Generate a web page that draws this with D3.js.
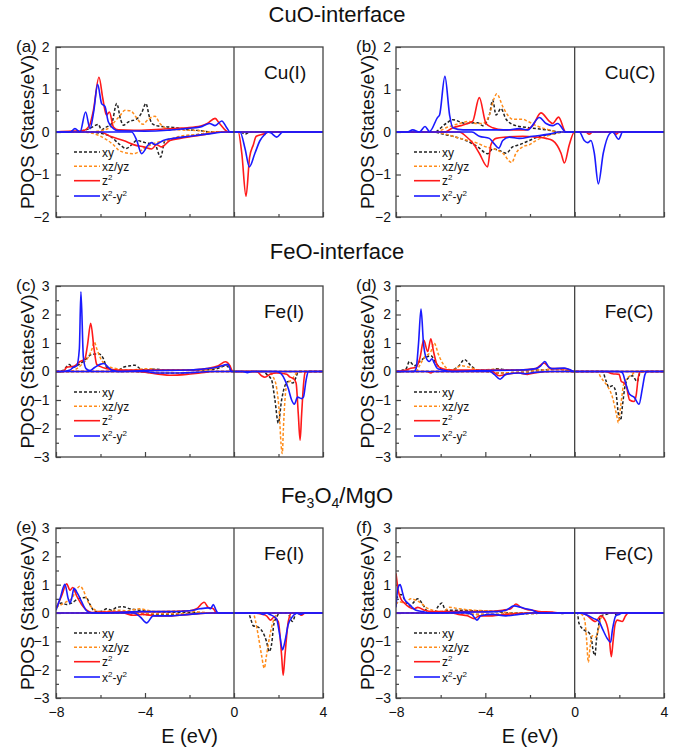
<!DOCTYPE html>
<html>
<head>
<meta charset="utf-8">
<script src="https://cdn.jsdelivr.net/npm/d3@7"></script>
<style>
  body { margin: 0; background: #fff; }
  svg { display: block; font-family: "Liberation Sans", Arial, Helvetica, sans-serif; }
</style>
</head>
<body>
<svg id="chart" width="692" height="752"></svg>
<script>
// ---------- axis ticks and labels ----------
const energyTicks = [-8, -4, 0, 4];
const energyMinorTicks = [-6, -2, 2];
const energyDomain = [-8, 4];
const sectionTitles = ["CuO-interface", "FeO-interface", "Fe3O4/MgO"];
const panelLetters = ["(a)", "(b)", "(c)", "(d)", "(e)", "(f)"];
const siteNames = ["Cu(I)", "Cu(C)", "Fe(I)", "Fe(C)", "Fe(I)", "Fe(C)"];
const pdosLimits = [2, 2, 3, 3, 3, 3];
const orbitals = ["xy", "xz/yz", "z2", "x2-y2"];

// ---------- projected DOS, [E (eV), PDOS] — spin up (>0) and spin down (<0) ----------
// (a) CuO-interface, Cu(I)
const cuI_xy_up = [[-8,0],[-7,0.02],[-6.5,0.08],[-6.25,0.15],[-6.1,0.18],[-5.95,0.05],[-5.8,0.1],[-5.5,0.2],[-5.27,0.67],[-5.1,0.3],[-4.97,0.16],[-4.74,0.24],[-4.37,0.31],[-4.15,0.45],[-3.96,0.67],[-3.8,0.35],[-3.69,0.2],[-3.4,0.14],[-3,0.12],[-2.6,0.1],[-2.2,0.06],[-1.5,0.03],[-1,0],[4,0]];
const cuI_xz_up = [[-8,0],[-6.5,0],[-6,0.03],[-5.6,0.1],[-5.35,0.25],[-5.12,0.39],[-4.9,0.51],[-4.65,0.5],[-4.4,0.35],[-4.1,0.18],[-3.85,0.3],[-3.55,0.37],[-3.33,0.2],[-3.03,0.08],[-2.5,0.05],[-1.5,0.03],[-1,0],[4,0]];
const cuI_z2_up = [[-8,0],[-7.3,0.02],[-6.8,0.03],[-6.5,0.15],[-6.32,0.51],[-6.07,1.29],[-5.9,0.8],[-5.8,0.51],[-5.73,0.4],[-5.6,0.47],[-5.42,0.12],[-5.2,0.05],[-4.5,0.04],[-3.5,0.06],[-2.5,0.09],[-2.1,0.1],[-1.5,0.14],[-1.2,0.2],[-0.85,0.32],[-0.65,0.2],[-0.25,0],[4,0]];
const cuI_x2_up = [[-8,0],[-7.35,0],[-7.15,0.08],[-6.92,0],[-6.67,0.47],[-6.47,0.08],[-6.3,0.5],[-6.13,1.12],[-5.95,0.67],[-5.8,0.6],[-5.65,0.24],[-5.42,0.08],[-5.2,0.03],[-4,0.02],[-3,0.04],[-2.2,0.08],[-1.5,0.12],[-1.1,0.2],[-0.85,0.15],[-0.55,0.26],[-0.35,0.12],[-0.18,0],[4,0]];
const cuI_xy_dn = [[-8,0],[-6.5,0],[-6,-0.03],[-5.57,-0.1],[-5.12,-0.3],[-4.85,-0.39],[-4.6,-0.3],[-4.37,-0.2],[-4,-0.25],[-3.55,-0.3],[-3.3,-0.59],[-3.1,-0.2],[-2.6,-0.15],[-2.1,-0.1],[-1.5,-0.05],[-1,0],[0.3,0],[0.5,-0.05],[0.7,0],[4,0]];
const cuI_xz_dn = [[-8,0],[-6.8,0],[-6,-0.1],[-5.42,-0.3],[-5.12,-0.45],[-4.52,-0.51],[-4.22,-0.45],[-3.93,-0.35],[-3.48,-0.25],[-3.03,-0.2],[-2.43,-0.1],[-1.5,-0.05],[-0.9,0],[4,0]];
const cuI_z2_dn = [[-8,0],[-6,0],[-5.57,-0.1],[-4.97,-0.2],[-4.37,-0.32],[-4.07,-0.35],[-3.7,-0.4],[-3.48,-0.3],[-3.25,-0.35],[-2.88,-0.2],[-2.43,-0.15],[-1.83,-0.1],[-1.23,-0.05],[-0.6,0],[0.19,0],[0.35,-0.5],[0.54,-1.51],[0.7,-0.6],[0.87,-0.3],[1.0,-0.1],[1.32,-0.05],[1.6,0],[4,0]];
const cuI_x2_dn = [[-8,0],[-4.6,0],[-4.37,-0.2],[-4.15,-0.51],[-3.85,-0.3],[-3.7,-0.25],[-3.55,-0.3],[-3.18,-0.2],[-2.73,-0.15],[-1.98,-0.1],[-1.23,-0.05],[-0.33,0],[0.27,0],[0.5,-0.4],[0.69,-0.82],[0.94,-0.5],[1.17,-0.2],[1.4,-0.05],[1.5,0],[1.65,-0.02],[1.92,-0.12],[2.2,0],[4,0]];

// (b) CuO-interface, Cu(C)
const cuC_xy_up = [[-8,0],[-6.3,0],[-5.76,0.2],[-5.46,0.29],[-4.87,0.2],[-4.34,0.22],[-4.12,0.15],[-3.82,0.4],[-3.67,0.75],[-3.52,0.4],[-3.3,0.55],[-3.07,0.3],[-2.63,0.15],[-2.03,0.1],[-1.28,0.05],[-0.55,0],[4,0]];
const cuC_xz_up = [[-8,0],[-6.2,0],[-5.76,0.1],[-5.16,0.2],[-4.72,0.25],[-4.42,0.2],[-4.12,0.2],[-3.82,0.4],[-3.6,0.8],[-3.49,0.9],[-3.22,0.6],[-3.0,0.4],[-2.78,0.3],[-2.33,0.3],[-2.1,0.25],[-1.73,0.15],[-1.14,0.05],[-0.8,0],[4,0]];
const cuC_z2_up = [[-8,0],[-5.8,0],[-5.46,0.1],[-5.09,0.15],[-4.79,0.2],[-4.57,0.25],[-4.27,0.81],[-3.97,0.2],[-3.67,0.1],[-3.2,0.05],[-2.2,0.05],[-1.88,0.15],[-1.51,0.45],[-1.13,0.25],[-0.99,0.2],[-0.72,0.35],[-0.4,0],[4,0]];
const cuC_x2_up = [[-8,0],[-7.5,0],[-7.25,0.05],[-6.95,0],[-6.7,0.13],[-6.5,0.01],[-6.13,0.35],[-6.05,0.4],[-5.81,1.31],[-5.6,0.4],[-5.46,0.1],[-5.0,0.05],[-3,0.05],[-2.48,0.08],[-2.1,0.05],[-1.58,0.34],[-1.28,0.2],[-0.99,0.15],[-0.76,0.2],[-0.39,0],[4,0]];
const cuC_xy_dn = [[-8,0],[-6.3,0],[-5.9,-0.05],[-5.46,-0.1],[-4.87,-0.2],[-4.34,-0.35],[-3.9,-0.51],[-3.67,-0.4],[-3.3,-0.45],[-3.07,-0.5],[-2.78,-0.35],[-2.48,-0.3],[-2.03,-0.2],[-1.58,-0.1],[-0.99,-0.05],[-0.5,0],[4,0]];
const cuC_xz_dn = [[-8,0],[-6.3,0],[-5.76,-0.05],[-5.16,-0.15],[-4.42,-0.25],[-3.97,-0.35],[-3.6,-0.4],[-3.22,-0.5],[-2.82,-0.72],[-2.63,-0.5],[-2.33,-0.35],[-2.03,-0.3],[-1.73,-0.2],[-1.28,-0.1],[-0.99,-0.05],[-0.55,0],[4,0]];
const cuC_z2_dn = [[-8,0],[-5.16,0],[-4.87,-0.1],[-4.5,-0.3],[-4.27,-0.5],[-3.9,-0.82],[-3.75,-0.3],[-3.52,-0.15],[-3.07,-0.12],[-2.33,-0.1],[-1.73,-0.12],[-1.28,-0.15],[-0.99,-0.2],[-0.61,-0.5],[-0.46,-0.73],[-0.24,-0.3],[-0.01,0],[0.5,0],[0.65,-0.05],[0.8,0],[1.7,0],[1.85,-0.05],[2.0,0],[4,0]];
const cuC_x2_dn = [[-8,0],[-4.6,0],[-4.27,-0.1],[-3.82,-0.15],[-3.6,-0.28],[-3.4,-0.38],[-3.22,-0.2],[-2.93,-0.12],[-2.48,-0.15],[-1.88,-0.1],[-1.14,-0.05],[-0.7,0],[0.21,0],[0.43,-0.2],[0.58,-0.25],[0.73,-0.2],[0.88,-0.5],[1.06,-1.22],[1.28,-0.5],[1.55,-0.05],[1.7,0],[1.97,-0.17],[2.15,0],[4,0]];

// (c) FeO-interface, Fe(I)
const feI_xy_up = [[-8,0],[-7.67,0.05],[-7.4,0.25],[-7.25,0.15],[-7.07,0.2],[-6.7,0.4],[-6.4,0.6],[-6.1,0.62],[-5.87,0.45],[-5.72,0.15],[-5.5,0.05],[-5.27,0.02],[-4.97,0.15],[-4.67,0.2],[-4.45,0.22],[-4.22,0.1],[-3.93,0.05],[-3.63,0.08],[-3,0.05],[-1.5,0.05],[-0.78,0.1],[-0.33,0.2],[-0.1,0],[4,0]];
const feI_xz_up = [[-8,0],[-7.37,0],[-7.07,0.1],[-6.77,0.3],[-6.55,0.5],[-6.38,0.8],[-6.28,1.04],[-6.17,0.8],[-6.02,0.5],[-5.72,0.2],[-5.27,0.1],[-4.8,0.05],[-3.78,0.1],[-3.3,0.05],[-1.2,0.05],[-0.93,0.1],[-0.48,0.2],[-0.25,0.25],[-0.05,0],[4,0]];
const feI_z2_up = [[-8,0],[-7.67,0],[-7.52,0.15],[-7.2,0.18],[-6.92,0.35],[-6.7,0.45],[-6.59,0.9],[-6.44,1.69],[-6.29,0.8],[-6.17,0.25],[-6.02,0.18],[-5.72,0.1],[-5.2,0.05],[-2,0.05],[-1.23,0.1],[-0.7,0.2],[-0.39,0.34],[-0.18,0.2],[-0.06,0],[4,0]];
const feI_x2_up = [[-8,0],[-7.67,0],[-7.37,0.05],[-7.22,0.15],[-7.07,0.2],[-6.95,0.8],[-6.88,2.8],[-6.77,0.5],[-6.65,0.1],[-6.47,0.03],[-6.25,0.15],[-6.02,0.25],[-5.84,0.28],[-5.72,0.2],[-5.5,0.05],[-5.2,0],[-4,0.03],[-2,0.05],[-1.5,0.08],[-0.78,0.15],[-0.28,0.25],[-0.1,0],[4,0]];
const feI_xy_dn = [[-8,0],[-4.5,0],[-3.5,-0.05],[-2.5,-0.05],[-1.5,-0.03],[-1,0],[1.32,0],[1.47,-0.1],[1.69,-0.3],[1.84,-1.0],[1.99,-1.81],[2.14,-1.0],[2.29,-0.5],[2.44,-0.35],[2.64,-0.4],[2.79,-0.2],[2.89,0],[4,0]];
const feI_xz_dn = [[-8,0],[-4.5,0],[-3.5,-0.03],[-2.5,-0.04],[-1.5,-0.02],[-1,0],[1.54,0],[1.77,-0.2],[1.92,-0.6],[2.04,-1.5],[2.11,-2.5],[2.17,-2.88],[2.22,-2.0],[2.29,-1.0],[2.39,-0.4],[2.59,-0.3],[2.82,-0.05],[3.0,0],[4,0]];
const feI_z2_dn = [[-8,0],[-4.5,0],[-3.78,-0.05],[-3.3,-0.1],[-2.88,-0.13],[-2.13,-0.1],[-1.53,-0.05],[-0.93,0],[1.02,0],[1.24,-0.15],[1.39,-0.2],[1.62,-0.1],[1.92,-0.05],[2.37,-0.1],[2.52,-0.2],[2.67,-0.25],[2.79,-0.4],[2.89,-1.5],[2.97,-2.41],[3.04,-1.5],[3.12,-0.5],[3.19,-0.05],[3.27,0],[4,0]];
const feI_x2_dn = [[-8,0],[-4,0],[-3.5,-0.05],[-2.5,-0.05],[-1.5,-0.02],[-1,0],[0.4,0],[0.6,-0.04],[0.8,0],[1.92,0],[2.14,-0.1],[2.29,-0.3],[2.44,-0.6],[2.59,-1.0],[2.71,-1.15],[2.86,-0.9],[3.04,-0.95],[3.12,-0.9],[3.24,-0.3],[3.34,0],[4,0]];

// (d) FeO-interface, Fe(C)
const feC_xy_up = [[-8,0],[-7.55,0.1],[-7.4,0.35],[-7.18,0.2],[-6.88,0.4],[-6.66,0.5],[-6.44,0.55],[-6.21,0.3],[-5.99,0.1],[-5.7,0.02],[-5.18,0.2],[-4.94,0.42],[-4.64,0.2],[-4.34,0.05],[-3.8,0.05],[-3.45,0.1],[-3,0.05],[-1.5,0.05],[-0.78,0.1],[-0.12,0],[4,0]];
const feC_xz_up = [[-8,0],[-7.1,0],[-6.95,0.2],[-6.73,0.5],[-6.44,0.7],[-6.29,1.0],[-6.1,0.6],[-5.92,0.3],[-5.7,0.1],[-5.47,0.05],[-5.1,0.2],[-4.72,0.15],[-4.27,0.05],[-3.6,0.08],[-3,0.05],[-1.5,0.05],[-0.78,0.1],[-0.18,0],[4,0]];
const feC_z2_up = [[-8,0],[-7.55,0.05],[-7.4,0.1],[-7.1,0.15],[-6.92,0.5],[-6.76,1.1],[-6.58,0.7],[-6.44,1.15],[-6.32,0.7],[-6.14,0.2],[-5.92,0.1],[-5.5,0.05],[-2.5,0.05],[-1.74,0.1],[-1.37,0.3],[-1.07,0.1],[-0.4,0.1],[-0.05,0],[4,0]];
const feC_x2_up = [[-8,0],[-7.2,0],[-7.1,0.1],[-6.99,1.0],[-6.88,2.19],[-6.77,1.0],[-6.66,0.5],[-6.51,0.35],[-6.39,0.45],[-6.29,0.3],[-6.14,0.1],[-5.9,0.05],[-5.5,0],[-4.2,0.03],[-2.49,0.05],[-1.74,0.1],[-1.52,0.2],[-1.34,0.35],[-1.15,0.15],[-1.0,0.1],[-0.47,0.12],[-0.18,0.05],[-0.04,0],[4,0]];
const feC_xy_dn = [[-8,0],[-4,0],[-3.4,-0.05],[-2.5,-0.03],[-1,0],[1.25,0],[1.39,-0.3],[1.54,-0.55],[1.69,-0.5],[1.84,-0.7],[1.96,-1.5],[2.06,-1.71],[2.14,-1.2],[2.26,-0.5],[2.43,-0.2],[2.58,-0.15],[2.8,-0.35],[2.95,0],[4,0]];
const feC_xz_dn = [[-8,0],[-4,0],[-3.4,-0.05],[-2.5,-0.03],[-1,0],[1.02,0],[1.17,-0.2],[1.31,-0.35],[1.46,-0.5],[1.69,-0.9],[1.87,-1.5],[1.96,-1.8],[2.03,-1.4],[2.11,-0.9],[2.18,-0.5],[2.29,-0.3],[2.58,-0.1],[2.73,0],[4,0]];
const feC_z2_dn = [[-8,0],[-6.6,0],[-6.44,-0.05],[-6.3,0],[-3.7,0],[-3.38,-0.15],[-3.08,-0.1],[-2.5,-0.05],[-2.11,-0.1],[-1.8,-0.05],[-1,0],[1.39,0],[1.69,-0.08],[1.99,-0.1],[2.09,-0.35],[2.21,-0.4],[2.31,-0.5],[2.46,-1.0],[2.66,-1.05],[2.76,-0.8],[2.85,-0.2],[2.95,0],[4,0]];
const feC_x2_dn = [[-8,0],[-3.8,0],[-3.6,-0.1],[-3.34,-0.27],[-3.08,-0.1],[-2.5,-0.05],[-2.2,-0.08],[-1.8,-0.03],[-1,0],[1.99,0],[2.14,-0.05],[2.28,-0.4],[2.46,-0.8],[2.66,-0.9],[2.88,-1.15],[3.03,-0.6],[3.15,-0.1],[3.25,0],[4,0]];

// (e) Fe3O4/MgO, Fe(I)
const mgI_xy_up = [[-8,0.2],[-7.75,0.35],[-7.52,0.3],[-7.3,0.35],[-7.0,0.5],[-6.65,0.55],[-6.47,0.3],[-6.25,0.05],[-6.0,0.05],[-5.72,0.15],[-5.5,0.1],[-5.27,0.2],[-4.98,0.22],[-4.68,0.15],[-4.23,0.1],[-3.78,0.05],[-2.5,0.02],[-1.2,0],[4,0]];
const mgI_xz_up = [[-8,0.2],[-7.75,0.3],[-7.52,0.4],[-7.3,0.5],[-7.1,0.8],[-6.92,0.95],[-6.77,0.8],[-6.62,0.5],[-6.4,0.2],[-6.02,0.05],[-5.5,0.08],[-5.27,0.1],[-4.8,0.08],[-4.23,0.15],[-3.93,0.1],[-3.5,0.05],[-2,0.08],[-1.5,0.03],[-0.8,0],[4,0]];
const mgI_z2_up = [[-8,0.15],[-7.75,0.6],[-7.52,1.03],[-7.37,0.8],[-7.25,0.9],[-7.07,0.6],[-6.85,0.3],[-6.62,0.1],[-6.4,0.02],[-6,0.03],[-3,0.05],[-2,0.08],[-1.68,0.15],[-1.34,0.38],[-1.16,0.2],[-0.93,0.15],[-0.78,0],[4,0]];
const mgI_x2_up = [[-8,0.1],[-7.82,0.5],[-7.6,1.01],[-7.45,0.5],[-7.37,0.35],[-7.3,0.5],[-7.19,0.87],[-7.04,0.7],[-6.85,0.4],[-6.65,0.1],[-6.47,0.02],[-6,0],[-4.2,0.05],[-3,0.05],[-2,0.08],[-1.53,0.15],[-1.16,0.18],[-1.05,0.15],[-0.93,0.3],[-0.81,0.1],[-0.71,0],[4,0]];
const mgI_xy_dn = [[-8,0],[-4.5,0],[-4.0,-0.05],[-3,-0.05],[-2,-0.02],[-1,0],[0.64,0],[0.75,-0.2],[0.86,-0.45],[1.09,-0.5],[1.31,-0.7],[1.46,-1.0],[1.58,-1.36],[1.69,-1.1],[1.79,-0.4],[1.91,-0.15],[2.06,0],[2.4,0],[2.63,-0.3],[2.8,0],[4,0]];
const mgI_xz_dn = [[-8,0],[-4.5,0],[-4,-0.03],[-3,-0.03],[-1,0],[0.86,0],[0.97,-0.3],[1.09,-0.8],[1.24,-1.5],[1.36,-1.95],[1.46,-1.5],[1.61,-0.8],[1.76,-0.3],[1.91,-0.05],[2.06,0],[4,0]];
const mgI_z2_dn = [[-8,0],[-5,0],[-4.53,-0.08],[-4.1,-0.05],[-3.5,-0.1],[-2.8,-0.1],[-2,-0.05],[-1,0],[0.86,0],[1.31,-0.05],[1.46,-0.1],[1.64,-0.25],[1.79,-0.15],[1.99,-0.3],[2.14,-1.5],[2.21,-2.2],[2.29,-1.5],[2.44,-0.3],[2.59,0],[2.85,0],[3.03,-0.08],[3.2,0],[4,0]];
const mgI_x2_dn = [[-8,0],[-4.5,0],[-4.2,-0.15],[-3.93,-0.35],[-3.63,-0.1],[-2.8,-0.1],[-2,-0.05],[-1,0],[1.16,0],[1.31,-0.05],[1.46,0],[1.61,-0.05],[1.91,-0.2],[2.06,-0.8],[2.18,-1.3],[2.29,-1.0],[2.44,-0.4],[2.66,-0.1],[2.8,0],[3.0,-0.05],[3.15,0],[4,0]];

// (f) Fe3O4/MgO, Fe(C)
const mgC_xy_up = [[-8,0.5],[-7.78,0.65],[-7.63,0.5],[-7.4,0.25],[-7.18,0.4],[-7.03,0.5],[-6.8,0.3],[-6.58,0.05],[-6.28,0.02],[-6.14,0.2],[-5.94,0.35],[-5.79,0.1],[-5.47,0.1],[-4.5,0.08],[-3.53,0.05],[-2.8,0],[4,0]];
const mgC_xz_up = [[-8,0.3],[-7.85,0.4],[-7.63,0.35],[-7.33,0.5],[-7.1,0.45],[-6.88,0.35],[-6.66,0.2],[-6.36,0.1],[-6.07,0.05],[-5.77,0.1],[-5.62,0.2],[-5.18,0.15],[-4.57,0.1],[-3.97,0.08],[-3.38,0.05],[-2.8,0],[4,0]];
const mgC_z2_up = [[-8,1.4],[-7.9,0.8],[-7.78,0.5],[-7.63,0.35],[-7.4,0.2],[-7.18,0.15],[-7.03,0.2],[-6.73,0.1],[-6.36,0.05],[-4,0.05],[-3.23,0.1],[-2.86,0.15],[-2.63,0.32],[-2.41,0.2],[-2.11,0.12],[-1.89,0.1],[-1.6,0.05],[-1,0.03],[-0.7,0],[4,0]];
const mgC_x2_up = [[-8,0.2],[-7.93,0.8],[-7.82,1.0],[-7.7,0.7],[-7.63,0.5],[-7.4,0.3],[-7.1,0.1],[-6.8,0.05],[-6.5,0],[-5,0.03],[-3.53,0.05],[-3.08,0.1],[-2.71,0.25],[-2.41,0.2],[-2.19,0.15],[-1.89,0.1],[-1.6,0],[4,0]];
const mgC_xy_dn = [[-8,0],[-5,0],[-4.5,-0.05],[-3.5,-0.05],[-2,-0.02],[-0.7,0],[-0.55,-0.02],[-0.4,0],[0.12,0],[0.19,-0.35],[0.42,-0.6],[0.64,-0.7],[0.75,-0.9],[0.82,-1.3],[0.91,-1.5],[0.97,-1.0],[1.06,-0.5],[1.17,-0.1],[1.39,-0.05],[1.68,0],[1.83,-0.05],[2.0,0],[4,0]];
const mgC_xz_dn = [[-8,0],[-5,0],[-4.5,-0.04],[-3.5,-0.04],[-2,-0.02],[-1,0],[0.19,0],[0.37,-0.1],[0.46,-0.3],[0.54,-1.0],[0.61,-1.74],[0.69,-1.2],[0.79,-0.8],[0.94,-0.85],[1.06,-0.6],[1.17,-0.2],[1.32,0],[4,0]];
const mgC_z2_dn = [[-8,0],[-5.5,0],[-5.2,-0.05],[-4.8,-0.1],[-4.5,-0.2],[-4.27,-0.1],[-3.68,-0.1],[-3.08,-0.05],[-2,0],[0.19,0],[0.49,-0.05],[0.94,-0.3],[1.17,-0.1],[1.39,-0.3],[1.54,-0.8],[1.64,-1.54],[1.72,-1.0],[1.81,-0.4],[1.91,-0.25],[2.13,-0.3],[2.28,-0.1],[2.4,0],[4,0]];
const mgC_x2_dn = [[-8,0],[-4.9,0],[-4.6,-0.05],[-4.5,-0.15],[-4.38,-0.25],[-4.2,-0.1],[-3.68,-0.05],[-3.08,-0.1],[-2.5,-0.05],[-1.9,0],[0.19,0],[0.49,-0.05],[0.86,-0.2],[1.09,-0.3],[1.24,-0.55],[1.46,-0.9],[1.61,-1.03],[1.69,-0.6],[1.84,-0.1],[1.99,-0.05],[2.13,0],[4,0]];

// series per panel, in orbital order (xy, xz/yz, z2, x2-y2), each [spin up, spin down]
const panelSeries = [
  [[cuI_xy_up, cuI_xy_dn], [cuI_xz_up, cuI_xz_dn], [cuI_z2_up, cuI_z2_dn], [cuI_x2_up, cuI_x2_dn]],
  [[cuC_xy_up, cuC_xy_dn], [cuC_xz_up, cuC_xz_dn], [cuC_z2_up, cuC_z2_dn], [cuC_x2_up, cuC_x2_dn]],
  [[feI_xy_up, feI_xy_dn], [feI_xz_up, feI_xz_dn], [feI_z2_up, feI_z2_dn], [feI_x2_up, feI_x2_dn]],
  [[feC_xy_up, feC_xy_dn], [feC_xz_up, feC_xz_dn], [feC_z2_up, feC_z2_dn], [feC_x2_up, feC_x2_dn]],
  [[mgI_xy_up, mgI_xy_dn], [mgI_xz_up, mgI_xz_dn], [mgI_z2_up, mgI_z2_dn], [mgI_x2_up, mgI_x2_dn]],
  [[mgC_xy_up, mgC_xy_dn], [mgC_xz_up, mgC_xz_dn], [mgC_z2_up, mgC_z2_dn], [mgC_x2_up, mgC_x2_dn]]
];

// ---------- styling ----------
const orbitalStyle = {
  "xy":    { color: "#222222", dash: "3,2", width: 1.5 },
  "xz/yz": { color: "#ff8c1a", dash: "3,2", width: 1.5 },
  "z2":    { color: "#ff1a1a", dash: null,  width: 1.6 },
  "x2-y2": { color: "#1a1aff", dash: null,  width: 1.6 }
};
const frameColor = "#444";

// ---------- layout ----------
const colLeft = [56, 396], colRight = [323, 664];
const rowTop = [47, 286, 528], rowBottom = [217, 457, 698];
const titleBaseline = [22, 259, 503];
const titleX = 337;

const svg = d3.select("#chart");

// section titles
sectionTitles.forEach((t, i) => {
  const txt = svg.append("text")
    .attr("x", titleX).attr("y", titleBaseline[i])
    .attr("text-anchor", "middle")
    .attr("font-size", 22).attr("fill", "#111");
  if (t === "Fe3O4/MgO") {
    txt.append("tspan").text("Fe");
    txt.append("tspan").attr("font-size", 14).attr("dy", 5).text("3");
    txt.append("tspan").attr("dy", -5).text("O");
    txt.append("tspan").attr("font-size", 14).attr("dy", 5).text("4");
    txt.append("tspan").attr("dy", -5).text("/MgO");
  } else {
    txt.text(t);
  }
});

const defs = svg.append("defs");

panelSeries.forEach((series, p) => {
  const col = p % 2, row = Math.floor(p / 2);
  const x0 = colLeft[col], x1 = colRight[col];
  const y0 = rowTop[row], y1 = rowBottom[row];
  const lim = pdosLimits[p];

  const x = d3.scaleLinear().domain(energyDomain).range([x0, x1]);
  const y = d3.scaleLinear().domain([-lim, lim]).range([y1, y0]);

  const g = svg.append("g");

  // clip region for curves
  const clipId = "clip" + p;
  defs.append("clipPath").attr("id", clipId)
    .append("rect").attr("x", x0).attr("y", y0).attr("width", x1 - x0).attr("height", y1 - y0);

  // y axis: major ticks with labels, minor ticks at half steps (pointing inward)
  const major = d3.range(-lim, lim + 0.001, 1);
  const minor = d3.range(-lim + 0.5, lim, 1);
  const yAxisMajor = d3.axisLeft(y).tickValues(major).tickSize(-5)
    .tickPadding(col === 0 ? 6.5 : 5).tickFormat(d3.format("d"));
  const yAxisMinor = d3.axisLeft(y).tickValues(minor).tickSize(-3).tickFormat("");
  const ga = g.append("g").attr("transform", `translate(${x0},0)`).call(yAxisMajor);
  const gm = g.append("g").attr("transform", `translate(${x0},0)`).call(yAxisMinor);

  // x axis: inward ticks on the bottom edge, labels only on the bottom row
  const xAxisMajor = d3.axisBottom(x).tickValues(energyTicks).tickSize(-5).tickPadding(9)
    .tickFormat(row === 2 ? d3.format("d") : "");
  const xAxisMinor = d3.axisBottom(x).tickValues(energyMinorTicks).tickSize(-3).tickFormat("");
  const gx = g.append("g").attr("transform", `translate(0,${y1})`).call(xAxisMajor);
  const gxm = g.append("g").attr("transform", `translate(0,${y1})`).call(xAxisMinor);

  [ga, gm, gx, gxm].forEach(a => {
    a.select(".domain").remove();
    a.selectAll(".tick line").attr("stroke", frameColor).attr("stroke-width", 1.2);
    a.selectAll(".tick text").attr("font-size", 14).attr("fill", "#111")
      .attr("font-family", "'Liberation Sans', Arial, sans-serif");
  });

  // curves
  const line = d3.line().x(d => x(d[0])).y(d => y(d[1])).curve(d3.curveMonotoneX);
  const cg = g.append("g").attr("clip-path", `url(#${clipId})`);
  series.forEach((pair, k) => {
    const st = orbitalStyle[orbitals[k]];
    pair.forEach(pts => {
      cg.append("path").datum(pts)
        .attr("d", line)
        .attr("fill", "none")
        .attr("stroke", st.color)
        .attr("stroke-width", st.width)
        .attr("stroke-dasharray", st.dash)
        .attr("stroke-linejoin", "round");
    });
  });

  // Fermi level and frame
  g.append("line").attr("x1", x(0)).attr("x2", x(0)).attr("y1", y0).attr("y2", y1)
    .attr("stroke", frameColor).attr("stroke-width", 1.3);
  g.append("rect").attr("x", x0).attr("y", y0).attr("width", x1 - x0).attr("height", y1 - y0)
    .attr("fill", "none").attr("stroke", frameColor).attr("stroke-width", 1.3);

  // panel letter
  g.append("text").attr("x", x0 - 40).attr("y", y0 + 5)
    .attr("font-size", 17).attr("fill", "#111").text(panelLetters[p]);

  // site label
  g.append("text").attr("x", x(0) + 30).attr("y", y0 + 32)
    .attr("font-size", 19).attr("fill", "#111").text(siteNames[p]);

  // y axis title
  g.append("text")
    .attr("transform", `translate(${x0 - 29},${(y0 + y1) / 2}) rotate(-90)`)
    .attr("text-anchor", "middle").attr("dominant-baseline", "central")
    .attr("font-size", 19).attr("fill", "#111").text("PDOS (States/eV)");

  // legend
  const legRows = [65, 50.7, 36.3, 21];
  orbitals.forEach((o, k) => {
    const st = orbitalStyle[o];
    const ly = y1 - legRows[k];
    g.append("line").attr("x1", x0 + 18).attr("x2", x0 + 44).attr("y1", ly).attr("y2", ly)
      .attr("stroke", st.color).attr("stroke-width", st.width).attr("stroke-dasharray", st.dash);
    const t = g.append("text").attr("x", x0 + 46).attr("y", ly + 4.5)
      .attr("font-size", 12).attr("fill", "#111");
    if (o === "z2") {
      t.append("tspan").text("z");
      t.append("tspan").attr("font-size", 8).attr("dy", -5).text("2");
    } else if (o === "x2-y2") {
      t.append("tspan").text("x");
      t.append("tspan").attr("font-size", 8).attr("dy", -5).text("2");
      t.append("tspan").attr("dy", 5).text("-y");
      t.append("tspan").attr("font-size", 8).attr("dy", -5).text("2");
    } else {
      t.text(o);
    }
  });

  // energy axis title on the bottom row
  if (row === 2) {
    g.append("text").attr("x", (x0 + x1) / 2).attr("y", 743)
      .attr("text-anchor", "middle").attr("font-size", 20).attr("fill", "#111").text("E (eV)");
  }
});
</script>
</body>
</html>
